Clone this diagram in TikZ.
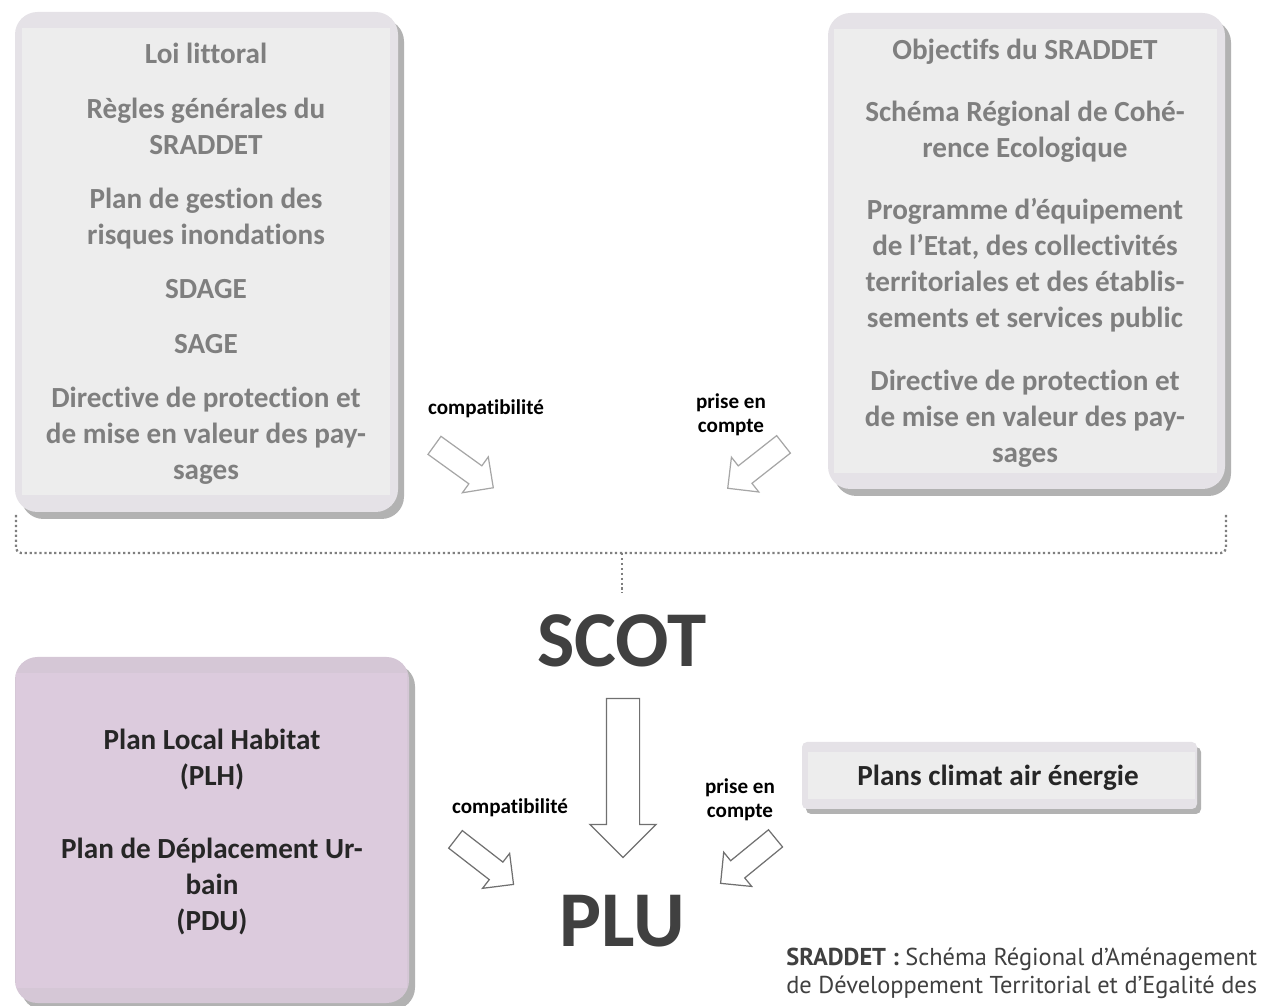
\documentclass[tikz,border=0pt]{standalone}
\usepackage{fontspec}
\setmainfont{Carlito}[Ligatures=NoCommon]
\newfontfamily\notefont{PT Sans}
\usetikzlibrary{shapes.arrows,shadows}

\definecolor{boxband}{HTML}{E5E2E7}
\definecolor{boxfill}{HTML}{EDEDED}
\definecolor{boxtext}{HTML}{7F7F7F}
\definecolor{plhband}{HTML}{D5C7D6}
\definecolor{plhfill}{HTML}{DCCBDD}
\definecolor{darktext}{HTML}{262626}
\definecolor{bigtext}{HTML}{404040}
\definecolor{lightarrow}{HTML}{A6A6A6}
\definecolor{darkarrow}{HTML}{707070}
\definecolor{bracegray}{HTML}{7F7F7F}

\begin{document}
\begin{tikzpicture}[x=0.02cm,y=-0.02cm,
  boxshadow/.style={drop shadow={shadow xshift=0.12cm,shadow yshift=-0.14cm,fill=black,opacity=0.3}},
  boxlabel/.style={align=center,inner sep=0pt,text=boxtext,font=\fontsize{16.6}{20.5}\selectfont\bfseries},
  darklabel/.style={align=center,inner sep=0pt,text=darktext,font=\fontsize{16.6}{20.5}\selectfont\bfseries},
  linklabel/.style={align=center,inner sep=0pt,text=black,font=\fontsize{12}{13.8}\selectfont\bfseries},
  biglabel/.style={anchor=base,inner sep=0pt,text=bigtext,font=\fontsize{45}{50}\selectfont\bfseries},
  hollow/.style={single arrow,anchor=tail,fill=white,line width=0.7pt,minimum width=0pt,
    inner sep=0.21cm,single arrow head extend=0.22cm},
  brace/.style={draw=bracegray,line width=1.3pt,dash pattern=on 1.3pt off 1.5pt,rounded corners=0.1cm}]
\useasboundingbox (0,0) rectangle (1279,1006);

% boxes
\fill[boxband,rounded corners=0.45cm,boxshadow] (15,12) rectangle (398,512);
\fill[boxfill] (22,28) rectangle (390,495);
\fill[boxband,rounded corners=0.45cm,boxshadow] (828,13) rectangle (1225,489);
\fill[boxfill] (834,29) rectangle (1217,473);
\fill[plhband,rounded corners=0.45cm,boxshadow] (15,657) rectangle (409,1003);
\fill[plhfill] (16,673) rectangle (407,988);
\fill[boxband,rounded corners=0.1cm,drop shadow={shadow xshift=0.08cm,shadow yshift=-0.1cm,fill=black,opacity=0.3}] (802,742) rectangle (1197,809);
\fill[boxfill] (808,752) rectangle (1195,799);

\node[boxlabel] (compat) at (206,264) {Loi littoral\\[10.5pt]
  Règles générales du\\ SRADDET\\[10.5pt]
  Plan de gestion des\\ risques inondations\\[10.5pt]
  SDAGE\\[10.5pt]
  SAGE\\[10.5pt]
  Directive de protection et\\ de mise en valeur des pay-\\ sages};
\node[boxlabel] (compte) at (1025,253) {Objectifs du SRADDET\\[15pt]
  Schéma Régional de Cohé-\\ rence Ecologique\\[15pt]
  Programme d’équipement\\ de l’Etat, des collectivités\\ territoriales et des établis-\\ sements et services public\\[15pt]
  Directive de protection et\\ de mise en valeur des pay-\\ sages};
\node[darklabel] (plh) at (212,832) {Plan Local Habitat\\ (PLH)\\[20.5pt]
  Plan de Déplacement Ur-\\ bain\\ (PDU)};
\node[darklabel] (pcae) at (998,778) {Plans climat air énergie};

\node[biglabel] (scot) at (622,667) {SCOT};
\node[biglabel] (plu) at (622,947) {PLU};

% link labels
\node[linklabel] (l1) at (486,409) {compatibilité};
\node[linklabel] (l2) at (731,415) {prise en\\ compte};
\node[linklabel] (l3) at (510,808) {compatibilité};
\node[linklabel] (l4) at (740,800) {prise en\\ compte};

% arrows
\node[hollow,draw=lightarrow,rotate=-35.8,minimum height=1.45cm] (a1) at (434,445) {};
\node[hollow,draw=lightarrow,rotate=-141.8,minimum height=1.42cm] (a2) at (784,444) {};
\node[hollow,draw=darkarrow,rotate=-37.8,minimum height=1.47cm] (a3) at (455,839) {};
\node[hollow,draw=darkarrow,rotate=-140.7,minimum height=1.42cm] (a4) at (776,838) {};
\node[hollow,draw=darkarrow,rotate=-90,minimum height=3.18cm,inner sep=0.32cm,
  single arrow head extend=0.33cm] (a5) at (623,698) {};

% bracket
\coordinate (bl) at (16,515);
\coordinate (br) at (1226,515);
\coordinate (bm) at (622,553);
\coordinate (bs) at (622,593);
\draw[brace] (bl) |- (bm);
\draw[brace] (br) |- (bm);
\draw[brace] (bm) -- (bs);

% note
\node[anchor=west,align=left,inner sep=0pt,text=bigtext,font=\notefont\fontsize{13.9}{15.9}\selectfont] (note) at (786,973)
  {\textbf{SRADDET :} Schéma Régional d’Aménagement\\ de Développement Territorial et d’Egalité des};
\end{tikzpicture}
\end{document}
